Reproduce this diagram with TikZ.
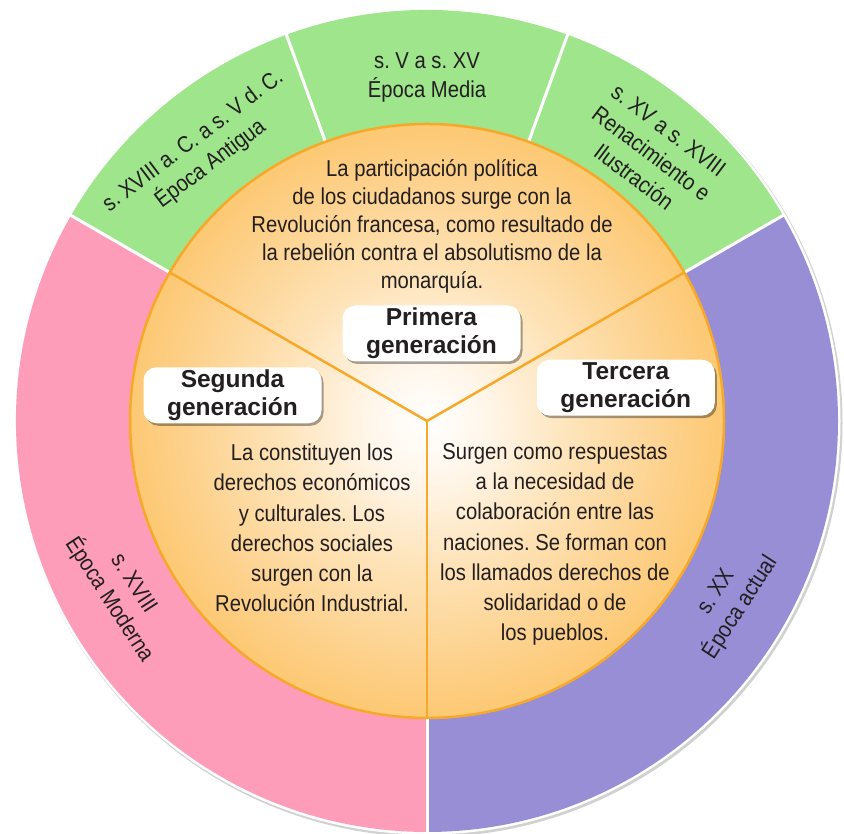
\documentclass[tikz,border=0pt]{standalone}
\usepackage{fontspec}
\setmainfont{Liberation Sans}
\newfontfamily\narrowfont{Liberation Sans}[FakeStretch=0.88]
\usetikzlibrary{shadows}
\frenchspacing
\definecolor{greenC}{RGB}{158,229,140}
\definecolor{pinkC}{RGB}{254,157,186}
\definecolor{purpleC}{RGB}{151,142,213}
\definecolor{orangeC}{RGB}{251,176,59}
\definecolor{orangeD}{RGB}{248,168,40}
\definecolor{txt}{RGB}{35,31,32}
\definecolor{oA}{RGB}{255,246,234}
\definecolor{oB}{RGB}{254,228,186}
\definecolor{oC}{RGB}{253,210,142}
\definecolor{oD}{RGB}{252,194,98}
\definecolor{oE}{RGB}{251,182,70}
\pgfdeclareradialshading{glow}{\pgfpointorigin}{color(0bp)=(white); color(5bp)=(oA); color(12bp)=(oB); color(20bp)=(oC); color(28bp)=(oD); color(36bp)=(oE); color(44bp)=(orangeC); color(50bp)=(orangeC)}
\begin{document}
\begin{tikzpicture}[x=1pt,y=1pt,
  ringtext/.style={font=\narrowfont\fontsize{23}{29}\selectfont, text=txt, align=center, inner sep=0pt},
  bodytext/.style={font=\narrowfont\fontsize{23}{30.2}\selectfont, text=txt, align=center, inner sep=0pt},
  toptext/.style={font=\narrowfont\fontsize{23}{28.1}\selectfont, text=txt, align=center, inner sep=0pt},
  genbox/.style={fill=white, rounded corners=13pt, minimum width=178pt, minimum height=56pt, inner sep=0pt, align=center, font=\bfseries\fontsize{24.5}{28}\selectfont, text=txt, drop shadow={shadow xshift=2pt, shadow yshift=-2.5pt, fill=black, opacity=0.35}},
  sepline/.style={white, line width=3pt},
  divline/.style={orangeD, line width=2.5pt}]
\useasboundingbox (0,0) rectangle (844,834);
\coordinate (C) at (427,413);
\begin{scope}[shift={(C)}]
  % outer shadow and rim
  \fill[black!18] (1.5,-2) circle (414);
  \fill[white] (0,0) circle (413.5);
  % ring sectors
  \fill[pinkC] (0,0) -- (150:411) arc (150:270:411) -- cycle;
  \fill[purpleC] (0,0) -- (270:411) arc (270:390:411) -- cycle;
  \fill[greenC] (0,0) -- (30:411) arc (30:150:411) -- cycle;
  % separators
  \foreach \a in {30,70,110,150,270} \draw[sepline] (\a:290) -- (\a:412);
  % inner circle
  \shade[shading=glow] (0,0) circle (298);
  \draw[orangeD, line width=2.5pt] (0,0) circle (297);
  \foreach \a in {30,150,270} \draw[divline] (0,0) -- (\a:297);
  % ring labels
  \node[ringtext] (media) at (90:344) {s. V a s. XV\\Época Media};
  \node[ringtext, rotate=37] (antigua) at (130:350) {s. XVIII a. C. a s. V d. C.\\Época Antigua};
  \node[ringtext, rotate=-37] (renac) at (50:349) {s. XV a s. XVIII\\Renacimiento e\\Ilustración};
  \node[ringtext, rotate=-57] (moderna) at (209.2:351) {s. XVIII\\Época Moderna};
  \node[ringtext, rotate=57] (actual) at (329.3:351) {s. XX\\Época actual};
\end{scope}
% sector texts
\node[toptext] (t1) at (432,607.8) {La participación política\\de los ciudadanos surge con la\\Revolución francesa, como resultado de\\la rebelión contra el absolutismo de la\\monarquía.};
\node[bodytext] (t2) at (312,306) {La constituyen los\\derechos económicos\\y culturales. Los\\derechos sociales\\surgen con la\\Revolución Industrial.};
\node[bodytext] (t3) at (555,289.5) {Surgen como respuestas\\a la necesidad de\\colaboración entre las\\naciones. Se forman con\\los llamados derechos de\\solidaridad o de\\los pueblos.};
% generation labels
\node[genbox] (g1) at (431.5,500.5) {Primera\\generación};
\node[genbox] (g2) at (232.5,438.7) {Segunda\\generación};
\node[genbox] (g3) at (625.8,446.3) {Tercera\\generación};
\end{tikzpicture}
\end{document}
